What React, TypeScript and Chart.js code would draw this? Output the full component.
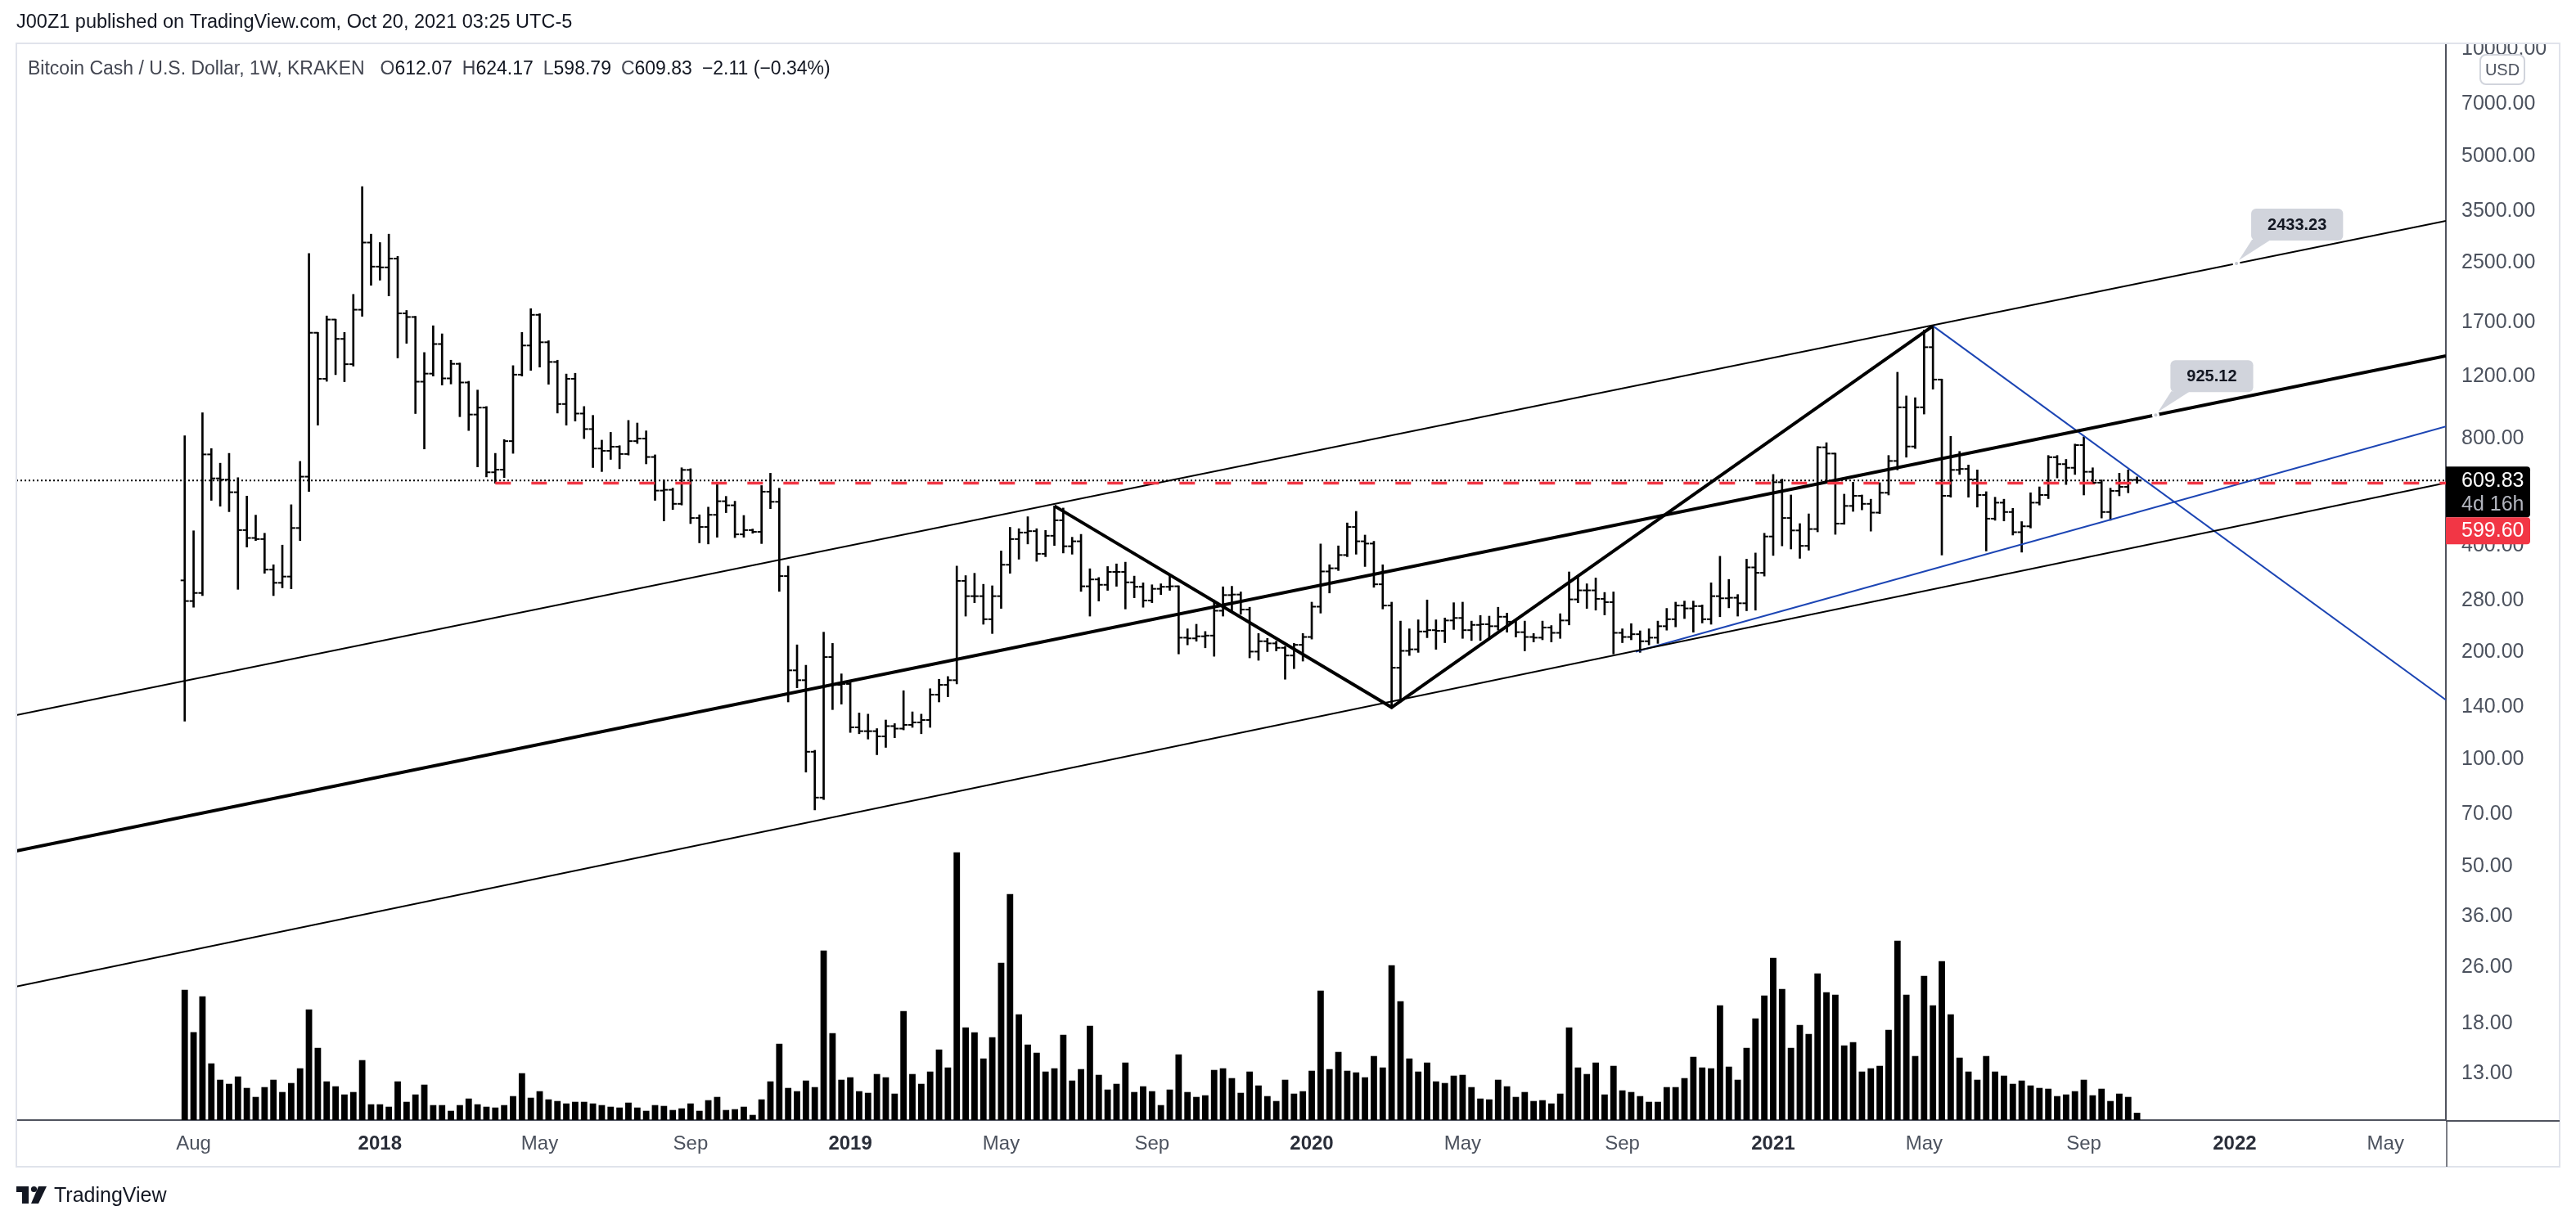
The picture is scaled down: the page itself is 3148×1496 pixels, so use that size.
import React, { useEffect, useRef } from 'react';
import { Chart, registerables } from 'chart.js';

Chart.register(...registerables);

const FONT = '"Liberation Sans", Arial, sans-serif';

// Weekly BCH/USD bars, week 0 = 31 Jul 2017
const opens = [
  319, 279, 294, 722, 618, 613, 565, 442, 420, 417,
  342, 314, 327, 448, 625, 1589, 1179, 1731, 1527, 1296,
  1845, 2852, 2440, 2428, 2570, 1802, 1760, 1157, 1219, 1477,
  1182, 1299, 1151, 935, 978, 643, 654, 787, 1211, 1463,
  1785, 1494, 1315, 1001, 1179, 941, 851, 750, 739, 759,
  724, 787, 800, 710, 571, 574, 524, 653, 478, 451,
  488, 533, 519, 430, 442, 437, 567, 531, 328, 178,
  167, 105, 78, 194, 162, 163, 123, 120, 120, 116,
  124, 122, 125, 127, 129, 152, 162, 167, 318, 288,
  288, 248, 288, 353, 417, 435, 439, 379, 426, 471,
  398, 411, 307, 321, 310, 337, 337, 315, 306, 280,
  302, 306, 307, 220, 219, 222, 223, 262, 290, 291,
  264, 201, 215, 212, 206, 196, 210, 221, 269, 338,
  345, 376, 451, 411, 405, 311, 271, 181, 202, 204,
  229, 231, 230, 246, 250, 231, 239, 240, 237, 252,
  244, 228, 221, 220, 235, 227, 246, 282, 299, 299,
  283, 277, 227, 221, 225, 215, 220, 237, 248, 271,
  266, 270, 248, 288, 284, 285, 275, 347, 335, 424,
  603, 478, 441, 399, 445, 756, 726, 461, 517, 552,
  524, 495, 563, 692, 980, 760, 980, 1447, 1173, 552,
  653, 657, 614, 555, 476, 528, 497, 436, 453, 528,
  555, 709, 678, 662, 767, 645, 601, 497, 570, 585,
  612.07,
];
const highs = [
  815, 440, 946, 750, 682, 727, 621, 551, 487, 433,
  353, 401, 521, 690, 2657, 1593, 1772, 1735, 1593, 2038,
  4099, 3012, 2852, 3012, 2607, 1836, 1768, 1398, 1663, 1578,
  1330, 1306, 1160, 1096, 985, 727, 795, 1284, 1593, 1858,
  1798, 1509, 1330, 1216, 1222, 985, 930, 792, 833, 764,
  900, 885, 841, 720, 612, 580, 662, 658, 488, 513,
  596, 550, 533, 486, 445, 590, 639, 580, 350, 210,
  184, 106, 228, 212, 174, 166, 135, 134, 122, 129,
  126, 156, 136, 134, 158, 168, 171, 350, 329, 334,
  311, 308, 386, 450, 446, 482, 446, 441, 517, 510,
  422, 430, 344, 325, 349, 355, 359, 328, 314, 310,
  312, 329, 308, 233, 240, 229, 281, 306, 307, 296,
  268, 226, 219, 215, 208, 212, 226, 277, 404, 353,
  399, 463, 499, 428, 411, 353, 277, 245, 233, 247,
  281, 247, 250, 276, 277, 245, 254, 253, 268, 258,
  248, 245, 226, 245, 238, 257, 337, 329, 312, 324,
  295, 296, 233, 241, 230, 233, 245, 266, 277, 279,
  279, 272, 314, 373, 321, 291, 366, 381, 433, 634,
  615, 555, 461, 491, 760, 779, 728, 558, 603, 555,
  540, 601, 717, 1230, 1055, 1043, 1618, 1661, 1177, 812,
  736, 674, 653, 567, 547, 540, 509, 467, 563, 585,
  717, 717, 699, 772, 809, 662, 612, 580, 639, 653,
  624.17,
];
const lows = [
  128, 268, 289, 536, 516, 498, 301, 396, 413, 334,
  289, 304, 302, 413, 568, 873, 1160, 1211, 1157, 1280,
  1768, 2162, 2235, 2018, 1350, 1484, 941, 748, 1200, 1132,
  1140, 922, 843, 666, 624, 599, 621, 727, 1200, 1245,
  1272, 1138, 944, 873, 896, 800, 663, 646, 699, 658,
  719, 775, 679, 536, 469, 505, 520, 461, 407, 404,
  422, 495, 421, 422, 433, 405, 508, 297, 145, 159,
  92, 72, 77, 138, 143, 119, 118, 114, 103, 108,
  115, 121, 123, 118, 123, 145, 150, 163, 253, 276,
  240, 226, 266, 334, 366, 404, 361, 372, 400, 381,
  378, 297, 253, 279, 299, 307, 265, 285, 268, 276,
  291, 299, 198, 210, 215, 206, 195, 253, 262, 256,
  193, 190, 201, 202, 168, 180, 189, 218, 258, 294,
  340, 372, 378, 349, 305, 265, 139, 146, 196, 200,
  220, 204, 213, 232, 219, 216, 216, 220, 231, 228,
  221, 202, 214, 217, 214, 219, 239, 276, 266, 263,
  255, 198, 213, 217, 200, 210, 212, 231, 236, 249,
  228, 242, 240, 252, 267, 253, 262, 263, 328, 375,
  399, 391, 368, 388, 437, 603, 430, 459, 499, 504,
  439, 492, 555, 653, 709, 750, 938, 1102, 376, 547,
  634, 547, 513, 386, 471, 469, 428, 383, 448, 520,
  542, 620, 594, 634, 555, 596, 478, 471, 552, 563,
  598.79,
];
const closes = [
  279, 294, 722, 618, 613, 565, 442, 420, 417, 342,
  314, 327, 448, 625, 1589, 1179, 1731, 1527, 1296, 1845,
  2852, 2440, 2428, 2570, 1802, 1760, 1157, 1219, 1477, 1182,
  1299, 1151, 935, 978, 643, 654, 787, 1211, 1463, 1785,
  1494, 1315, 1001, 1179, 941, 851, 750, 739, 759, 724,
  787, 800, 710, 571, 574, 524, 653, 478, 451, 488,
  533, 519, 430, 442, 437, 567, 531, 328, 178, 167,
  105, 78, 194, 162, 163, 123, 120, 120, 116, 124,
  122, 125, 127, 129, 152, 162, 167, 318, 288, 288,
  248, 288, 353, 417, 435, 439, 379, 426, 471, 398,
  411, 307, 321, 310, 337, 337, 315, 306, 280, 302,
  306, 307, 220, 219, 222, 223, 262, 290, 291, 264,
  201, 215, 212, 206, 196, 210, 221, 269, 338, 345,
  376, 451, 411, 405, 311, 271, 181, 202, 204, 229,
  231, 230, 246, 250, 231, 239, 240, 237, 252, 244,
  228, 221, 220, 235, 227, 246, 282, 299, 299, 283,
  277, 227, 221, 225, 215, 220, 237, 248, 271, 266,
  270, 248, 288, 284, 285, 275, 347, 335, 424, 603,
  478, 441, 399, 445, 756, 726, 461, 517, 552, 524,
  495, 563, 692, 980, 760, 980, 1447, 1173, 552, 653,
  657, 614, 555, 476, 528, 497, 436, 453, 528, 555,
  709, 678, 662, 767, 645, 601, 497, 570, 585, 611.94,
  609.83,
];
// Weekly volume (thousand BCH, estimated)
const volumes = [
  478, 323, 454, 208, 148, 133, 160, 118, 85, 121,
  148, 103, 136, 190, 406, 265, 142, 124, 94, 103,
  220, 58, 58, 49, 142, 67, 94, 130, 55, 55,
  34, 55, 79, 58, 49, 46, 55, 88, 172, 82,
  106, 76, 70, 61, 67, 67, 61, 55, 49, 46,
  64, 46, 34, 55, 52, 37, 43, 61, 34, 73,
  85, 37, 40, 49, 19, 76, 142, 280, 118, 106,
  145, 121, 622, 319, 148, 157, 106, 100, 169, 157,
  97, 400, 169, 133, 178, 259, 193, 982, 340, 322,
  226, 304, 577, 829, 388, 277, 247, 178, 190, 313,
  145, 187, 346, 166, 112, 133, 211, 103, 124, 106,
  55, 112, 241, 103, 85, 91, 184, 190, 154, 100,
  178, 127, 88, 70, 148, 97, 106, 181, 475, 187,
  250, 181, 175, 157, 235, 193, 568, 436, 226, 178,
  211, 142, 136, 163, 166, 121, 79, 76, 148, 124,
  85, 103, 70, 73, 61, 97, 340, 193, 169, 211,
  94, 199, 109, 103, 88, 67, 67, 121, 121, 154,
  232, 193, 190, 421, 196, 148, 265, 373, 457, 595,
  481, 265, 349, 316, 538, 469, 460, 274, 286, 178,
  190, 199, 331, 658, 460, 235, 529, 421, 583, 388,
  229, 178, 148, 235, 178, 163, 133, 145, 127, 118,
  115, 88, 94, 106, 148, 91, 115, 70, 97, 85,
  27,
];

// Time axis tick labels (week index of first bar of the month)
const xTickIndex = [1, 22, 40, 57, 75, 92, 109, 127, 144, 162, 179, 196, 214, 231, 248];
const xTickLabels = ['Aug', '2018', 'May', 'Sep', '2019', 'May', 'Sep', '2020', 'May', 'Sep', '2021', 'May', 'Sep', '2022', 'May'];
const priceTicks = [10000, 7000, 5000, 3500, 2500, 1700, 1200, 800, 400, 280, 200, 140, 100, 70, 50, 36, 26, 18, 13];

// Axis ranges
const X_MIN = -18.97;
const X_MAX = 254.8;
const Y_MIN = 9.636;
const Y_MAX = 10378;
const VOL_MAX = 3950;

// Drawings (week index, price)
const upperChannel = [{ x: X_MIN, y: 133.2 }, { x: X_MAX, y: 3282 }];
const medianLine = [{ x: X_MIN, y: 55.2 }, { x: X_MAX, y: 1368 }];
const lowerChannel = [{ x: X_MIN, y: 22.9 }, { x: X_MAX, y: 600 }];
const zigzag = [{ x: 98, y: 517 }, { x: 136, y: 140 }, { x: 197, y: 1661 }];
const blueDown = [{ x: 197, y: 1661 }, { x: X_MAX, y: 147 }];
const blueUp = [{ x: 163.5, y: 201 }, { x: X_MAX, y: 866 }];
const horizontalLevel = 599.6;
const horizontalStart = 35;
const callouts = [
  { x: 231.2, text: '2433.23', line: upperChannel },
  { x: 222.1, text: '925.12', line: medianLine },
];
const countdown = '4d 16h';

function logLerp(line: { x: number; y: number }[], x: number) {
  const a = line[0];
  const b = line[line.length - 1];
  const t = (x - a.x) / (b.x - a.x);
  return Math.pow(10, Math.log10(a.y) + t * (Math.log10(b.y) - Math.log10(a.y)));
}

function rr(ctx: CanvasRenderingContext2D, x: number, y: number, w: number, h: number, r: number | number[]) {
  ctx.beginPath();
  if ((ctx as any).roundRect) (ctx as any).roundRect(x, y, w, h, r);
  else ctx.rect(x, y, w, h);
}

const fmt = (v: number) => v.toFixed(2);
const minus = (s: string) => s.replace('-', '\u2212');

const ohlcTicks = {
  id: 'ohlcTicks',
  afterDatasetsDraw(chart: any) {
    const { ctx, chartArea, scales } = chart;
    const xs = scales.x;
    const ys = scales.y;
    ctx.save();
    ctx.beginPath();
    ctx.rect(chartArea.left, chartArea.top, chartArea.right - chartArea.left, chartArea.bottom - chartArea.top);
    ctx.clip();
    ctx.fillStyle = '#000000';
    for (let i = 0; i < opens.length; i++) {
      const x = xs.getPixelForValue(i);
      const yo = ys.getPixelForValue(opens[i]);
      const yc = ys.getPixelForValue(closes[i]);
      ctx.fillRect(x - 5, yo - 1, 5, 2);
      ctx.fillRect(x, yc - 1, 5, 2);
    }
    // callout labels on the drawn lines
    ctx.font = `bold 20px ${FONT}`;
    ctx.textAlign = 'center';
    ctx.textBaseline = 'middle';
    for (const c of callouts) {
      const tx = xs.getPixelForValue(c.x);
      const ty = ys.getPixelForValue(logLerp(c.line, c.x));
      const tw = ctx.measureText(c.text).width;
      const w = tw + 40;
      const h = 39;
      const bx = tx + 18;
      const by = ty - 28 - h;
      ctx.fillStyle = '#d1d4dc';
      rr(ctx, bx, by, w, h, 6);
      ctx.fill();
      ctx.beginPath();
      ctx.moveTo(tx + 3, ty - 4);
      ctx.lineTo(bx + 1, by + h - 1);
      ctx.lineTo(bx + 24, by + h - 1);
      ctx.closePath();
      ctx.fill();
      ctx.fillStyle = '#ffffff';
      ctx.beginPath();
      ctx.arc(tx, ty, 4.5, 0, Math.PI * 2);
      ctx.fill();
      ctx.fillStyle = '#c3c6ce';
      ctx.beginPath();
      ctx.arc(tx, ty, 2, 0, Math.PI * 2);
      ctx.fill();
      ctx.fillStyle = '#131722';
      ctx.fillText(c.text, bx + w / 2, by + h / 2 + 1);
    }
    ctx.restore();
  },
};

const decor = {
  id: 'decor',
  beforeDraw(chart: any) {
    const { ctx, width, height } = chart;
    ctx.save();
    ctx.fillStyle = '#ffffff';
    ctx.fillRect(0, 0, width, height);
    ctx.restore();
  },
  afterDraw(chart: any) {
    const { ctx, chartArea, scales, width } = chart;
    const ys = scales.y;
    const xAxis = scales.x;
    const panelLeft = chartArea.left;
    const panelTop = chartArea.top;
    const panelRight = ys.right;
    const panelBottom = xAxis.bottom;
    ctx.save();
    // clip overflow of axis labels above panel
    ctx.fillStyle = '#ffffff';
    ctx.fillRect(chartArea.right + 1, 0, width - chartArea.right, panelTop - 1);
    // panel border
    ctx.strokeStyle = '#e0e3eb';
    ctx.lineWidth = 2;
    ctx.strokeRect(panelLeft, panelTop, panelRight - panelLeft, panelBottom - panelTop);
    // axis line extensions
    ctx.strokeStyle = '#50535e';
    ctx.lineWidth = 2;
    ctx.beginPath();
    ctx.moveTo(chartArea.right, chartArea.bottom + 1);
    ctx.lineTo(panelRight, chartArea.bottom + 1);
    ctx.stroke();
    ctx.lineWidth = 1.5;
    ctx.beginPath();
    ctx.moveTo(chartArea.right + 1, chartArea.bottom);
    ctx.lineTo(chartArea.right + 1, panelBottom);
    ctx.stroke();

    // header line 1
    ctx.textAlign = 'left';
    ctx.textBaseline = 'middle';
    ctx.font = `23.5px ${FONT}`;
    ctx.fillStyle = '#131722';
    ctx.fillText('J00Z1 published on TradingView.com, Oct 20, 2021 03:25 UTC-5', panelLeft, 28);

    // legend line 2
    const n = closes.length - 1;
    const chg = closes[n] - closes[n - 1];
    const pct = (chg / closes[n - 1]) * 100;
    const segs: { t: string; c: string; g: number }[] = [
      { t: 'Bitcoin Cash / U.S. Dollar, 1W, KRAKEN', c: '#434651', g: 19 },
      { t: 'O', c: '#434651', g: 0 },
      { t: fmt(opens[n]), c: '#131722', g: 12 },
      { t: 'H', c: '#434651', g: 0 },
      { t: fmt(highs[n]), c: '#131722', g: 12 },
      { t: 'L', c: '#434651', g: 0 },
      { t: fmt(lows[n]), c: '#131722', g: 12 },
      { t: 'C', c: '#434651', g: 0 },
      { t: fmt(closes[n]), c: '#131722', g: 12 },
      { t: `${minus(fmt(chg))} (${minus(fmt(pct))}%)`, c: '#131722', g: 0 },
    ];
    ctx.font = `23px ${FONT}`;
    let lx = panelLeft + 14;
    for (const s of segs) {
      ctx.fillStyle = s.c;
      ctx.fillText(s.t, lx, 85);
      lx += ctx.measureText(s.t).width + s.g;
    }

    // USD badge
    ctx.strokeStyle = '#d1d4dc';
    ctx.lineWidth = 2;
    rr(ctx, 3031, 67, 54, 36, 7);
    ctx.stroke();
    ctx.fillStyle = '#4c525e';
    ctx.font = `20px ${FONT}`;
    ctx.textAlign = 'center';
    ctx.fillText('USD', 3058, 86);

    // price boxes on the axis
    const py = ys.getPixelForValue(closes[n]);
    const ax = chartArea.right;
    ctx.fillStyle = '#000000';
    rr(ctx, ax, py - 17, 103, 62, [0, 4, 4, 0]);
    ctx.fill();
    ctx.fillStyle = '#f23645';
    rr(ctx, ax, py + 45, 103, 33, [0, 4, 4, 0]);
    ctx.fill();
    ctx.textAlign = 'left';
    ctx.font = `25px ${FONT}`;
    ctx.fillStyle = '#ffffff';
    ctx.fillText(fmt(closes[n]), ax + 19, py + 1);
    ctx.fillStyle = '#b2b5be';
    ctx.fillText(countdown, ax + 19, py + 30);
    ctx.fillStyle = '#ffffff';
    ctx.fillText(fmt(horizontalLevel), ax + 19, py + 62);

    // TradingView logo
    const lyTop = 1450;
    ctx.fillStyle = '#131722';
    ctx.fillRect(20, lyTop, 15, 7);
    ctx.fillRect(27, lyTop, 8, 21);
    ctx.beginPath();
    ctx.arc(41.5, lyTop + 3.5, 3.6, 0, Math.PI * 2);
    ctx.fill();
    ctx.beginPath();
    ctx.moveTo(47, lyTop);
    ctx.lineTo(57, lyTop);
    ctx.lineTo(47, lyTop + 21);
    ctx.lineTo(38, lyTop + 21);
    ctx.closePath();
    ctx.fill();
    ctx.font = `500 25px ${FONT}`;
    ctx.textBaseline = 'middle';
    ctx.fillText('TradingView', 66, lyTop + 12);
    ctx.restore();
  },
};

export default function App() {
  const ref = useRef<HTMLCanvasElement>(null);
  useEffect(() => {
    document.body.style.margin = '0';
    document.body.style.overflow = 'hidden';
    const canvas = ref.current;
    if (!canvas) return;
    Chart.defaults.font.family = FONT;
    const idx = closes.map((_, i) => i);
    const lineDs = (label: string, data: any[], color: string, width: number, dash: number[] = [], order = 0) => ({
      type: 'line' as const,
      label,
      data,
      borderColor: color,
      borderWidth: width,
      borderDash: dash,
      pointRadius: 0,
      fill: false,
      tension: 0,
      clip: 0,
      yAxisID: 'y',
      order,
    });
    const chart = new Chart(canvas, {
      type: 'bar',
      data: {
        datasets: [
          {
            type: 'bar',
            label: 'Volume',
            data: idx.map((i) => ({ x: i, y: volumes[i] })),
            yAxisID: 'yv',
            backgroundColor: '#000000',
            grouped: false,
            categoryPercentage: 1,
            barPercentage: 0.72,
            order: 10,
          } as any,
          {
            type: 'bar',
            label: 'High-Low',
            data: idx.map((i) => ({ x: i, y: [lows[i], highs[i]] })),
            yAxisID: 'y',
            backgroundColor: '#000000',
            grouped: false,
            barThickness: 2,
            order: 5,
          } as any,
          lineDs('Upper channel', upperChannel, '#000000', 2),
          lineDs('Median', medianLine, '#000000', 4),
          lineDs('Lower channel', lowerChannel, '#000000', 2),
          lineDs('Zigzag', zigzag, '#000000', 4),
          lineDs('Blue down', blueDown, '#1c45b4', 2),
          lineDs('Blue up', blueUp, '#1c45b4', 2),
          lineDs('Last price', [{ x: X_MIN, y: closes[closes.length - 1] }, { x: X_MAX, y: closes[closes.length - 1] }], '#000000', 2, [2, 3]),
          lineDs('Level', [{ x: horizontalStart, y: horizontalLevel }, { x: X_MAX, y: horizontalLevel }], '#f23645', 3.5, [19, 25], -1),
        ] as any,
      },
      options: {
        responsive: false,
        maintainAspectRatio: false,
        devicePixelRatio: 1,
        animation: false,
        events: [],
        layout: { padding: { left: 20, top: 53, right: 20, bottom: 70 } },
        plugins: { legend: { display: false }, tooltip: { enabled: false } },
        scales: {
          x: {
            type: 'linear',
            min: X_MIN,
            max: X_MAX,
            offset: false,
            grid: { display: false, drawTicks: false },
            border: { display: true, color: '#50535e', width: 2 },
            ticks: {
              autoSkip: false,
              maxRotation: 0,
              padding: 15,
              color: (c: any) => (/^\d{4}$/.test(xTickLabels[c.index] || '') ? '#2a2e39' : '#4c525e'),
              font: (c: any) => ({
                family: FONT,
                size: 24,
                weight: /^\d{4}$/.test(xTickLabels[c.index] || '') ? 'bold' : 'normal',
              }),
              callback: (_v: any, i: number) => xTickLabels[i],
            },
            afterBuildTicks: (s: any) => {
              s.ticks = xTickIndex.map((v) => ({ value: v }));
            },
            afterFit: (s: any) => {
              s.height = 57;
            },
          },
          y: {
            type: 'logarithmic',
            position: 'right',
            min: Y_MIN,
            max: Y_MAX,
            grid: { display: false, drawTicks: false },
            border: { display: true, color: '#50535e', width: 2 },
            ticks: {
              autoSkip: false,
              padding: 19,
              color: '#4c525e',
              font: { family: FONT, size: 25 },
              callback: (v: any) => Number(v).toFixed(2),
            },
            afterBuildTicks: (s: any) => {
              s.ticks = priceTicks.map((v) => ({ value: v }));
            },
            afterFit: (s: any) => {
              s.width = 139;
            },
          },
          yv: {
            type: 'linear',
            display: false,
            min: 0,
            max: VOL_MAX,
          },
        },
      } as any,
      plugins: [decor, ohlcTicks],
    });
    return () => chart.destroy();
  }, []);
  return (
    <div style={{ width: 3148, height: 1496, position: 'relative', overflow: 'hidden' }}>
      <canvas ref={ref} width={3148} height={1496} style={{ display: 'block', width: 3148, height: 1496 }} />
    </div>
  );
}
